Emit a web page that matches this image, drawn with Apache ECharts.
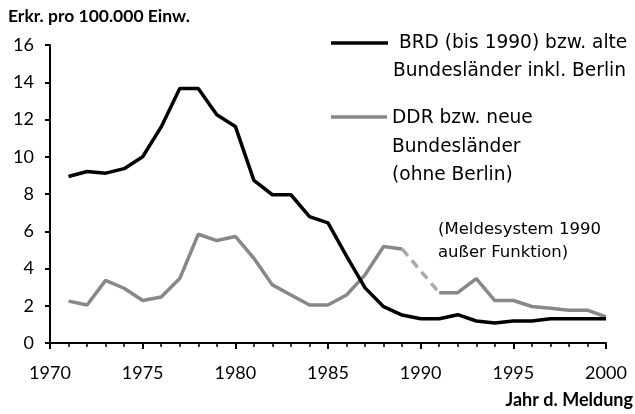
<!DOCTYPE html>
<html>
<head>
<meta charset="utf-8">
<script src="https://cdn.jsdelivr.net/npm/echarts@6/dist/echarts.min.js"></script>
<style>
  html, body { margin: 0; padding: 0; background: #fff; }
  #chart { width: 635px; height: 414px; }
</style>
</head>
<body>
<div id="chart"></div>
<script>
// Jahre und Werte (Erkrankungen pro 100.000 Einwohner)
const years = [1971, 1972, 1973, 1974, 1975, 1976, 1977, 1978, 1979, 1980,
  1981, 1982, 1983, 1984, 1985, 1986, 1987, 1988, 1989, 1990,
  1991, 1992, 1993, 1994, 1995, 1996, 1997, 1998, 1999, 2000];
const brd = [8.94, 9.21, 9.12, 9.36, 10.0, 11.6, 13.66, 13.66, 12.25, 11.63,
  8.73, 7.96, 7.96, 6.79, 6.45, 4.66, 2.96, 1.95, 1.5, 1.3,
  1.3, 1.52, 1.18, 1.08, 1.18, 1.18, 1.3, 1.3, 1.3, 1.3];
// 1990 kein Wert (Meldesystem außer Funktion)
const ddr = [2.25, 2.04, 3.36, 2.94, 2.28, 2.47, 3.46, 5.84, 5.5, 5.72,
  4.55, 3.12, 2.58, 2.04, 2.04, 2.58, 3.66, 5.18, 5.05, null,
  2.7, 2.7, 3.46, 2.28, 2.28, 1.96, 1.86, 1.76, 1.76, 1.4];
const gapYears = [1989, 1991];

const fontFam = "Lato, 'Open Sans', sans-serif";
const textFam = "'DejaVu Sans', sans-serif";

const brdData = years.map((y, i) => [y, brd[i]]);
const ddrData = years.map((y, i) => [y, ddr[i]]);
const gapData = gapYears.map(y => [y, ddr[years.indexOf(y)]]);

const chart = echarts.init(document.getElementById("chart"));

const option = {
  backgroundColor: "#ffffff",
  animation: false,
  grid: { left: 50, right: 29, top: 45, bottom: 71 },
  xAxis: {
    type: "value",
    min: 1970,
    max: 2000,
    interval: 5,
    axisLine: { lineStyle: { color: "#000", width: 2 } },
    axisTick: { show: true, length: 6, lineStyle: { color: "#000", width: 2 } },
    minorTick: { show: true, splitNumber: 5, length: 4, lineStyle: { color: "#000", width: 1.5 } },
    splitLine: { show: false },
    axisLabel: { color: "#000", fontSize: 18, fontFamily: fontFam, margin: 21,
      formatter: v => String(v) },
  },
  yAxis: {
    type: "value",
    min: 0,
    max: 16,
    interval: 2,
    axisLine: { show: true, lineStyle: { color: "#000", width: 2 } },
    axisTick: { show: true, length: 5, lineStyle: { color: "#000", width: 2 } },
    splitLine: { show: false },
    axisLabel: { color: "#000", fontSize: 18, fontFamily: fontFam, margin: 16 },
  },
  graphic: [
    { type: "text", left: 8, top: 7,
      style: { text: "Erkr. pro 100.000 Einw.", font: "bold 17.5px " + fontFam, fill: "#000" } },
    { type: "text", right: 2, top: 391,
      style: { text: "Jahr d. Meldung", font: "bold 18px " + fontFam, fill: "#000" } },
    // Legende
    { type: "line", shape: { x1: 331, y1: 43, x2: 388, y2: 43 },
      style: { stroke: "#000", lineWidth: 3.5 } },
    { type: "text", left: 393, top: 29,
      style: { text: " BRD (bis 1990) bzw. alte\nBundesländer inkl. Berlin",
        font: "18.6px " + textFam, fill: "#000", lineHeight: 28 } },
    { type: "line", shape: { x1: 331, y1: 117, x2: 387, y2: 117 },
      style: { stroke: "#888", lineWidth: 3.5 } },
    { type: "text", left: 392, top: 104,
      style: { text: "DDR bzw. neue\nBundesländer\n(ohne Berlin)",
        font: "18.6px " + textFam, fill: "#000", lineHeight: 28.5 } },
    { type: "text", left: 438, top: 218,
      style: { text: "(Meldesystem 1990\naußer Funktion)",
        font: "16.5px " + textFam, fill: "#000", lineHeight: 23 } },
  ],
  series: [
    {
      name: "DDR",
      type: "line",
      data: ddrData,
      showSymbol: false,
      connectNulls: false,
      lineStyle: { color: "#888", width: 3.5 },
    },
    {
      name: "DDR Lücke",
      type: "line",
      data: gapData,
      showSymbol: false,
      lineStyle: { color: "#aaa", width: 3.5, type: [9, 6] },
    },
    {
      name: "BRD",
      type: "line",
      data: brdData,
      showSymbol: false,
      lineStyle: { color: "#000", width: 3.5 },
    },
  ],
};

chart.setOption(option);
</script>
</body>
</html>
